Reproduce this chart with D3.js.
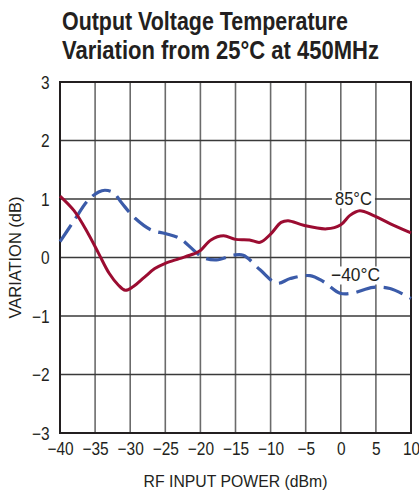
<!DOCTYPE html>
<html>
<head>
<meta charset="utf-8">
<script src="https://cdn.jsdelivr.net/npm/d3@7"></script>
<style>
  html, body { margin: 0; padding: 0; background: #fff; }
  svg { display: block; }
</style>
</head>
<body>
<svg id="chart"></svg>
<script>
// data
const xTicks = [-40, -35, -30, -25, -20, -15, -10, -5, 0, 5, 10];
const yTicks = [-3, -2, -1, 0, 1, 2, 3];

const hotPower = [-40, -38, -36, -34.5, -33, -31.7, -30.7, -29.6, -28, -26.5, -25, -23, -21, -20, -18.5, -16.7, -15, -13, -11.5, -10, -8.5, -7.5, -5.3, -2, 0, 1.3, 2.7, 4.6, 7, 10];
const hotVar   = [1.05, 0.8, 0.41, 0.07, -0.27, -0.47, -0.56, -0.5, -0.34, -0.19, -0.1, -0.02, 0.06, 0.12, 0.3, 0.37, 0.31, 0.3, 0.26, 0.4, 0.6, 0.63, 0.55, 0.49, 0.56, 0.72, 0.8, 0.72, 0.58, 0.42];

const coldPower = [-40, -38, -36, -34.5, -33.6, -32.4, -31.2, -29.3, -27, -25, -23, -21, -19.6, -17.7, -15.3, -13.9, -11.5, -9.1, -7.2, -4.4, -2.5, -0.1, 1.6, 4.6, 7, 10];
const coldVar   = [0.27, 0.63, 0.98, 1.12, 1.15, 1.11, 0.93, 0.67, 0.47, 0.41, 0.33, 0.13, 0, -0.04, 0.04, 0.04, -0.21, -0.44, -0.36, -0.31, -0.41, -0.61, -0.61, -0.51, -0.53, -0.7];

const W = 419, H = 494;
const margin = {top: 82, right: 8, bottom: 61, left: 60};
const width = W - margin.left - margin.right;
const height = H - margin.top - margin.bottom;
const font = '"Liberation Sans", Arial, sans-serif';
const ink = '#231f20';

const svg = d3.select('#chart').attr('width', W).attr('height', H);

// squeeze a text horizontally to a target width (the original uses a condensed face)
function fit(t, x0, y0, target) {
  const len = t.node().getComputedTextLength();
  t.attr('x', 0).attr('y', 0)
    .attr('transform', `translate(${x0},${y0}) scale(${target / len},1)`);
  return t;
}

// title
const title = svg.append('g')
  .attr('font-family', font)
  .attr('font-weight', 'bold')
  .attr('font-size', 25)
  .attr('fill', ink);
fit(title.append('text').text('Output Voltage Temperature'), 62, 30, 286);
fit(title.append('text').text('Variation from 25°C at 450MHz'), 62, 59, 317);

const chart = svg.append('g')
  .attr('transform', `translate(${margin.left},${margin.top})`);

const x = d3.scaleLinear().domain([-40, 10]).range([0, width]);
const y = d3.scaleLinear().domain([-3, 3]).range([height, 0]);

// grid
chart.append('g').selectAll('line').data(xTicks.slice(1, -1)).join('line')
  .attr('x1', d => x(d)).attr('x2', d => x(d))
  .attr('y1', 0).attr('y2', height)
  .attr('stroke', '#6b6b6b').attr('stroke-width', 1.6);
chart.append('g').selectAll('line').data(yTicks.slice(1, -1)).join('line')
  .attr('x1', 0).attr('x2', width)
  .attr('y1', d => y(d)).attr('y2', d => y(d))
  .attr('stroke', '#3a3a3a').attr('stroke-width', 1.4);

chart.append('rect')
  .attr('width', width).attr('height', height)
  .attr('fill', 'none').attr('stroke', ink).attr('stroke-width', 2);

// axes
const minus = d => String(d).replace('-', '\u2212');
const xAxis = d3.axisBottom(x).tickValues(xTicks).tickSize(0).tickPadding(9).tickFormat(minus);
const yAxis = d3.axisLeft(y).tickValues(yTicks).tickSize(0).tickPadding(12).tickFormat(minus);

chart.append('g').attr('transform', `translate(0,${height})`).call(xAxis)
  .call(g => g.select('.domain').remove())
  .selectAll('text')
  .attr('font-family', font).attr('font-size', 18).attr('fill', ink)
  .attr('transform', 'scale(0.86,1)');
chart.append('g').call(yAxis)
  .call(g => g.select('.domain').remove())
  .selectAll('text')
  .attr('font-family', font).attr('font-size', 18).attr('fill', ink).attr('dy', '0.34em')
  .attr('transform', 'scale(0.86,1)');

// axis titles
fit(svg.append('text')
  .attr('text-anchor', 'middle')
  .attr('font-family', font).attr('font-size', 17).attr('fill', ink)
  .text('RF INPUT POWER (dBm)'), margin.left + width / 2, 487, 184);

const yt = svg.append('text')
  .attr('text-anchor', 'middle')
  .attr('font-family', font).attr('font-size', 17).attr('fill', ink)
  .text('VARIATION (dB)');
const ytLen = yt.node().getComputedTextLength();
yt.attr('transform', `translate(21,${margin.top + height / 2}) rotate(-90) scale(${122 / ytLen},1)`);

// curves
const line = d3.line()
  .x(d => x(d[0])).y(d => y(d[1]))
  .curve(d3.curveCatmullRom.alpha(0.5));

chart.append('path')
  .datum(d3.zip(coldPower, coldVar))
  .attr('d', line)
  .attr('fill', 'none').attr('stroke', '#3b5ba9').attr('stroke-width', 3.2)
  .attr('stroke-dasharray', '20 8');

chart.append('path')
  .datum(d3.zip(hotPower, hotVar))
  .attr('d', line)
  .attr('fill', 'none').attr('stroke', '#9b0c31').attr('stroke-width', 3);

// curve labels, with a white knock-out behind them
function label(txt, px, vy, w) {
  const cx = x(px), cy = y(vy);
  chart.append('rect')
    .attr('x', cx - w / 2 - 3).attr('y', cy - 15).attr('width', w + 6).attr('height', 18)
    .attr('fill', '#fff');
  fit(chart.append('text')
    .attr('text-anchor', 'middle')
    .attr('font-family', font).attr('font-size', 18).attr('fill', ink)
    .text(txt), cx, cy, w);
}
label('85°C', 1.8, 0.89, 37);
label('\u221240°C', 2.1, -0.41, 49);
</script>
</body>
</html>
